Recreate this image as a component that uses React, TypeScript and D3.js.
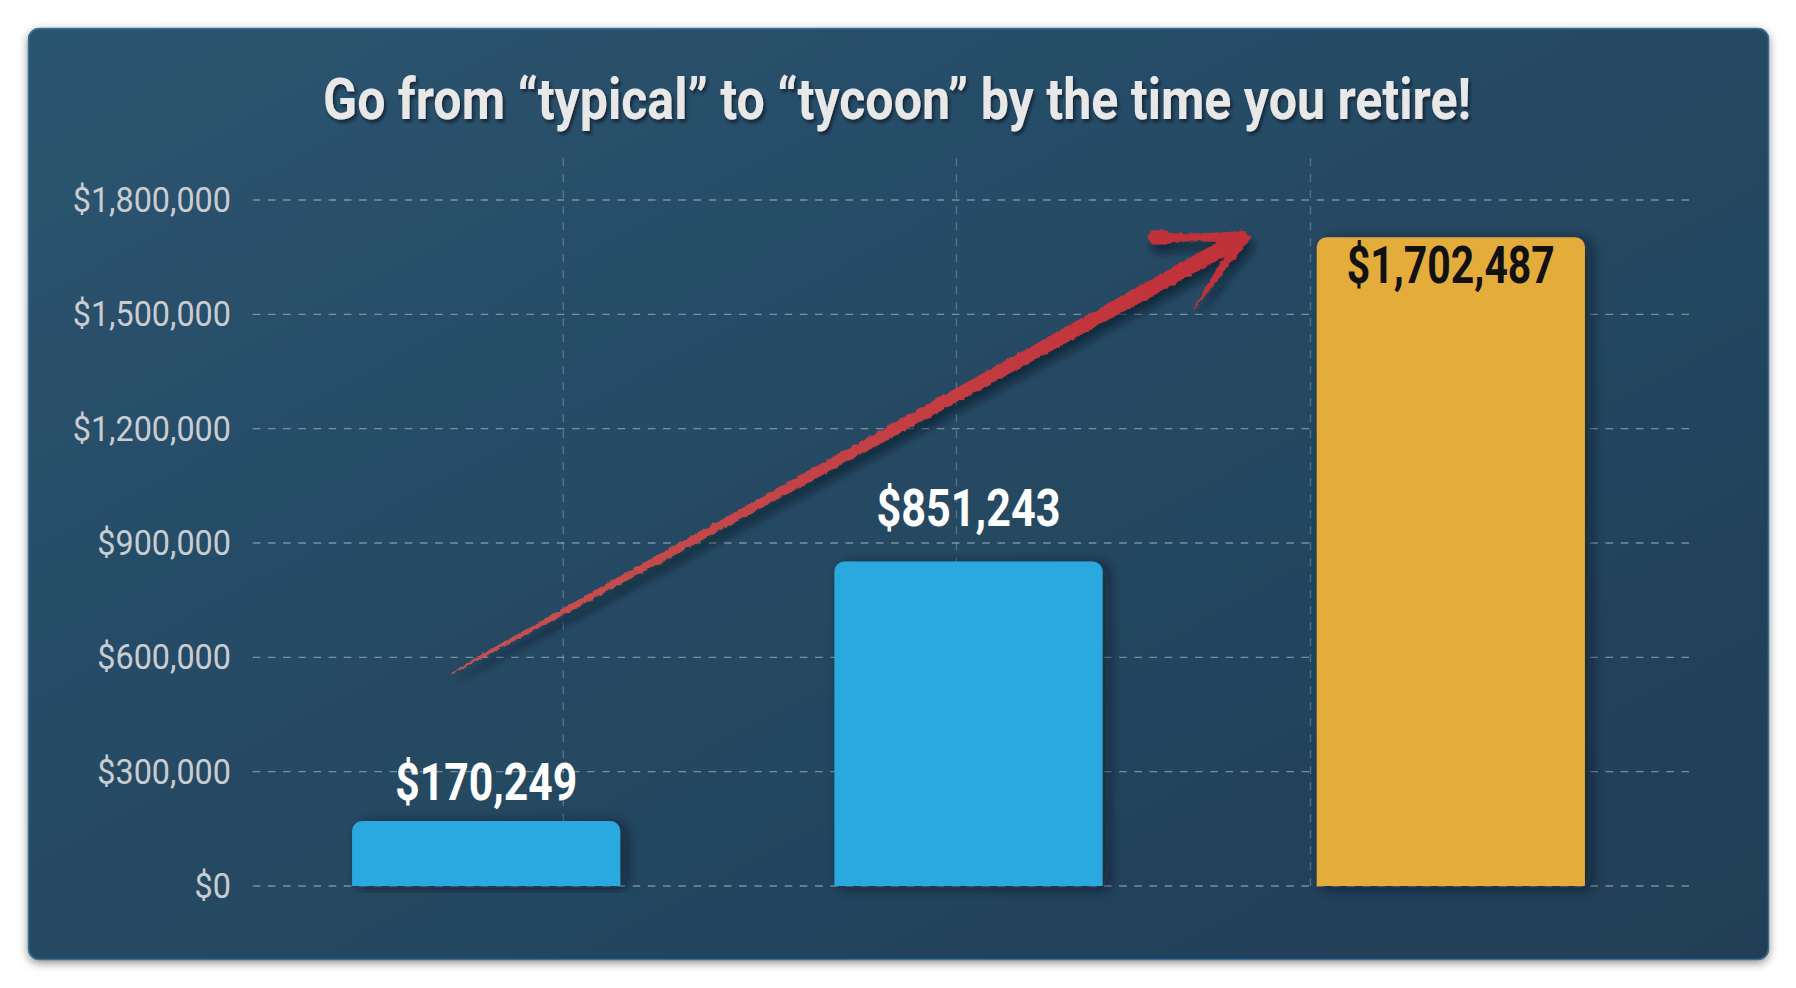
import React from 'react';
import * as d3 from 'd3';

// ---------- data ----------
const title = 'Go from “typical” to “tycoon” by the time you retire!';
const categories = ['Typical', 'Better', 'Tycoon'];
const values = [170249, 851243, 1702487];
const barColors = ['#29a9e1', '#29a9e1', '#e4ac3a'];
const labelColors = ['#ffffff', '#ffffff', '#111111'];
const yTicks = [0, 300000, 600000, 900000, 1200000, 1500000, 1800000];
const xGridTicks = [0.66, 1.475, 2.209];
const arrowFrom = { x: 0.43, value: 560000 };
const arrowTo = { x: 2.07, value: 1702487 };

const W = 1796;
const H = 988;

const fmt = (v: number) => '$' + d3.format(',')(v);

function topRounded(x: number, yTop: number, w: number, h: number, r: number) {
  return `M${x},${yTop + h} V${yTop + r} A${r},${r} 0 0 1 ${x + r},${yTop} H${x + w - r} A${r},${r} 0 0 1 ${x + w},${yTop + r} V${yTop + h} Z`;
}

export default function App() {
  const panel = { x: 28, y: 28, w: 1741, h: 932, r: 11 };
  const plotLeft = 252.7;
  const plotRight = 1689;
  const gridTop = 158;

  const y = d3.scaleLinear().domain([0, 1800000]).range([886, 200]);
  const xBand = d3.scaleBand<string>().domain(categories).range([245, 1692]).padding(0);
  const xPos = d3.scaleLinear().domain([0, 3]).range([245, 1692]);
  const barW = xBand.step() * 0.556;

  // arrow geometry
  const tail: [number, number] = [xPos(arrowFrom.x), y(arrowFrom.value)];
  const tip: [number, number] = [xPos(arrowTo.x), y(arrowTo.value)];
  const dx = tip[0] - tail[0];
  const dy = tip[1] - tail[1];
  const L = Math.hypot(dx, dy);
  const ux = dx / L, uy = dy / L;
  const nx = -uy, ny = ux;
  const left: [number, number][] = [];
  const right: [number, number][] = [];
  const shaftLen = L - 6;
  for (let i = 0; i <= 40; i++) {
    const t = i / 40;
    const d = t * shaftLen;
    const hw = 0.6 + 7.4 * Math.pow(t, 0.6);
    const cx = tail[0] + ux * d, cy = tail[1] + uy * d;
    left.push([cx + nx * hw, cy + ny * hw]);
    right.push([cx - nx * hw, cy - ny * hw]);
  }
  const shaftPath = d3.line()([...left, ...right.reverse()]) + 'Z';

  const backAng = Math.atan2(-uy, -ux);
  const wing = (angOff: number, len: number, profile: (s: number) => number) => {
    const a = backAng + angOff;
    const wx = Math.cos(a), wy = Math.sin(a);
    const px = -wy, py = wx;
    const A: [number, number][] = [];
    const B: [number, number][] = [];
    for (let i = 0; i <= 24; i++) {
      const s = i / 24;
      const d = s * len;
      const hw = profile(s);
      const cx = tip[0] + wx * (d - 4), cy = tip[1] + wy * (d - 4);
      A.push([cx + px * hw, cy + py * hw]);
      B.push([cx - px * hw, cy - py * hw]);
    }
    return d3.line().curve(d3.curveCatmullRom)([...A, ...B.reverse()]) + 'Z';
  };
  const upperWing = wing(0.5, 100, (s) => {
    const base = 6.5 - 2.5 * Math.sin(Math.PI * s * 0.9);
    const cap = s > 0.9 ? Math.sqrt(Math.max(0, 1 - ((s - 0.9) / 0.1) ** 2)) : 1;
    return Math.max(0.5, base * cap + (s > 0.75 ? 2 : 0) * cap);
  });
  const lowerWing = wing(-0.46, 92, (s) => 6 * (1 - s) + 0.6);

  return (
    <svg width={W} height={H} style={{ position: 'absolute', left: 0, top: 0, display: 'block', background: '#ffffff' }}>
      <defs>
        <linearGradient id="bg" x1="0" y1="0" x2="1" y2="1">
          <stop offset="0%" stopColor="#2b5470" />
          <stop offset="100%" stopColor="#203e56" />
        </linearGradient>
        <linearGradient id="arrowGrad" gradientUnits="userSpaceOnUse" x1={tail[0]} y1={tail[1]} x2={tip[0]} y2={tip[1]}>
          <stop offset="0%" stopColor="#c65252" />
          <stop offset="100%" stopColor="#c12f38" />
        </linearGradient>
        <filter id="panelShadow" x="-5%" y="-5%" width="110%" height="115%">
          <feDropShadow dx="0" dy="3" stdDeviation="5" floodColor="#000" floodOpacity="0.45" />
        </filter>
        <filter id="titleShadow" x="-5%" y="-30%" width="110%" height="160%">
          <feDropShadow dx="2" dy="3" stdDeviation="1.5" floodColor="#0c1a26" floodOpacity="0.75" />
        </filter>
        <filter id="barShadow" x="-20%" y="-20%" width="140%" height="130%">
          <feDropShadow dx="6" dy="2" stdDeviation="7" floodColor="#08131d" floodOpacity="0.6" />
        </filter>
        <filter id="brush" x="-10%" y="-20%" width="120%" height="140%">
          <feTurbulence type="fractalNoise" baseFrequency="0.18" numOctaves="2" seed="4" result="noise" />
          <feDisplacementMap in="SourceGraphic" in2="noise" scale="4" xChannelSelector="R" yChannelSelector="G" result="rough" />
          <feGaussianBlur in="rough" stdDeviation="4.5" result="blur" />
          <feOffset in="blur" dx="4" dy="8" result="off" />
          <feFlood floodColor="#081420" floodOpacity="0.6" />
          <feComposite in2="off" operator="in" result="shadow" />
          <feMerge>
            <feMergeNode in="shadow" />
            <feMergeNode in="rough" />
          </feMerge>
        </filter>
      </defs>

      {/* panel */}
      <rect x={panel.x} y={panel.y} width={panel.w} height={panel.h} rx={panel.r} fill="url(#bg)" filter="url(#panelShadow)" />
      <rect x={panel.x + 0.5} y={panel.y + 0.5} width={panel.w - 1} height={panel.h - 1} rx={panel.r} fill="none" stroke="#3a6f98" strokeWidth={1.5} />

      {/* title */}
      <text
        x={323}
        y={119}
        textLength={1148}
        lengthAdjust="spacingAndGlyphs"
        fontFamily="'Liberation Sans Narrow', 'Roboto', 'Liberation Sans', sans-serif"
        fontWeight={700}
        fontSize={58}
        fill="#e8e8e8"
        filter="url(#titleShadow)"
      >
        {title}
      </text>

      {/* vertical grid */}
      {xGridTicks.map((t, i) => (
        <line key={'vg' + i} x1={xPos(t)} x2={xPos(t)} y1={gridTop} y2={y(0)} stroke="#7f9bb1" strokeOpacity={0.55} strokeWidth={1.3} strokeDasharray="8 8" />
      ))}

      {/* horizontal grid + y labels */}
      {yTicks.map((t) => (
        <g key={'hg' + t}>
          <line x1={plotLeft} x2={plotRight} y1={y(t)} y2={y(t)} stroke="#b4bfc8" strokeOpacity={0.6} strokeWidth={1.3} strokeDasharray="7.6 7.6" />
          <g transform={`translate(231, ${y(t) + 12}) scale(0.925, 1)`}>
            <text x={0} y={0} textAnchor="end" fontFamily="Roboto, 'Liberation Sans', sans-serif" fontWeight={400} fontSize={35} fill="#c9cdd1">
              {fmt(t)}
            </text>
          </g>
        </g>
      ))}

      {/* arrow */}
      <g filter="url(#brush)" fill="url(#arrowGrad)">
        <path d={shaftPath} />
        <path d={upperWing} fill="#c0303a" />
        <path d={lowerWing} fill="#c0303a" />
      </g>

      {/* bars */}
      {categories.map((c, i) => {
        const cx = (xBand(c) as number) + xBand.bandwidth() / 2;
        const yt = y(values[i]);
        return (
          <path key={'bar' + c} d={topRounded(cx - barW / 2, yt, barW, y(0) - yt, 10)} fill={barColors[i]} filter="url(#barShadow)" />
        );
      })}

      {/* value labels */}
      {categories.map((c, i) => {
        const cx = (xBand(c) as number) + xBand.bandwidth() / 2;
        const lift = [-21, -36, 46][i];
        const widths = [182, 184, 208];
        return (
          <text
            key={'lab' + c}
            x={cx - widths[i] / 2}
            y={y(values[i]) + lift}
            textLength={widths[i]}
            lengthAdjust="spacingAndGlyphs"
            fontFamily="'Liberation Sans Narrow', 'Roboto', 'Liberation Sans', sans-serif"
            fontWeight={700}
            fontSize={51}
            fill={labelColors[i]}
          >
            {fmt(values[i])}
          </text>
        );
      })}
    </svg>
  );
}
